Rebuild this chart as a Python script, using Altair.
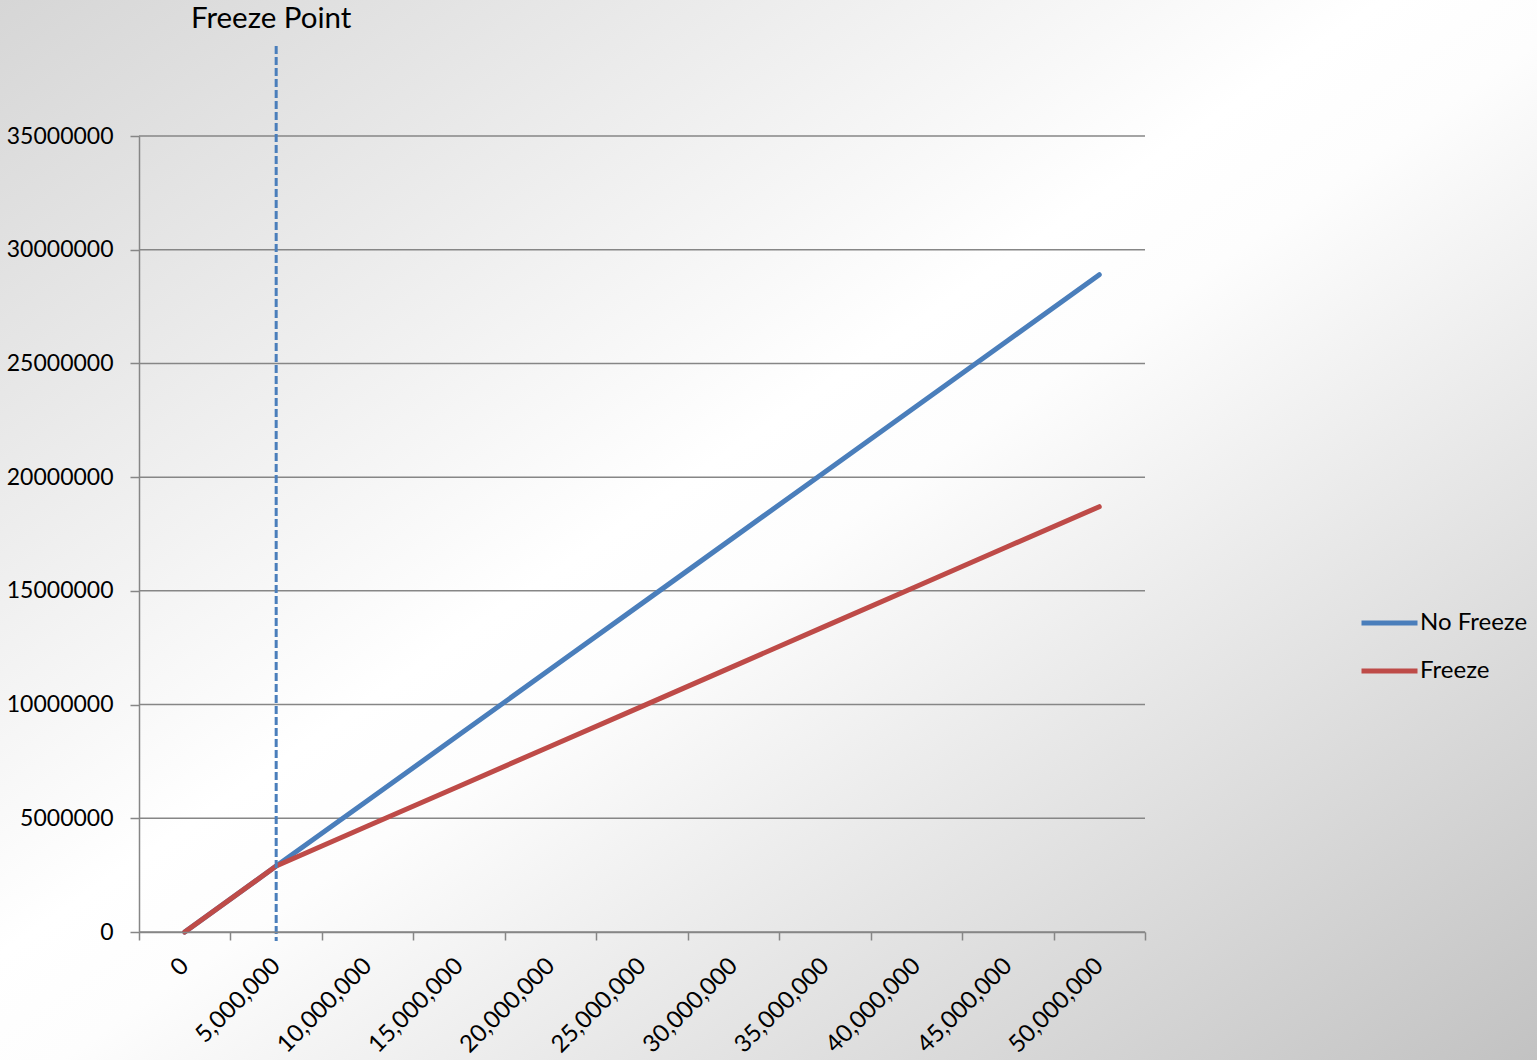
import altair as alt
import pandas as pd

categories = ["0", "5,000,000", "10,000,000", "15,000,000", "20,000,000", "25,000,000",
              "30,000,000", "35,000,000", "40,000,000", "45,000,000", "50,000,000"]
no_freeze = [0, 2900000, 5780000, 8670000, 11560000, 14450000, 17340000,
             20230000, 23120000, 26010000, 28900000]
freeze = [0, 2900000, 4660000, 6410000, 8170000, 9920000, 11680000,
          13440000, 15190000, 16950000, 18700000]
series_names = ["No Freeze", "Freeze"]
series_colors = ["#4a7ebb", "#be4b48"]
y_ticks = [0, 5000000, 10000000, 15000000, 20000000, 25000000, 30000000, 35000000]
freeze_at = "5,000,000"
freeze_label = "Freeze Point"

rows = []
for c, v in zip(categories, no_freeze):
    rows.append({"cat": c, "series": "No Freeze", "value": v})
for c, v in zip(categories, freeze):
    rows.append({"cat": c, "series": "Freeze", "value": v})
df = pd.DataFrame(rows)
grid_df = pd.DataFrame({"value": y_ticks})

FONT = "Lato"
W, H = 1006, 796
PL, PT = 139, 136
TOTAL_W, TOTAL_H = 1537, 1060
GRID = "#868686"

xscale = alt.Scale(type="band", domain=categories, paddingInner=0, paddingOuter=0)
yscale = alt.Scale(domain=[0, 35000000], nice=False)

gradient = alt.LinearGradient(
    gradient="linear",
    stops=[
        alt.GradientStop(offset=0, color="#d6d6d6"),
        alt.GradientStop(offset=0.45, color="#ffffff"),
        alt.GradientStop(offset=0.52, color="#fdfdfd"),
        alt.GradientStop(offset=1, color="#c2c2c2"),
    ],
    x1=0, y1=0, x2=1, y2=1,
)

bg = alt.Chart(pd.DataFrame({"d": [0]})).mark_rect(fill=gradient).encode(
    x=alt.value(-PL), x2=alt.value(TOTAL_W - PL),
    y=alt.value(-PT), y2=alt.value(TOTAL_H - PT),
)

grid = alt.Chart(grid_df).mark_rule(color=GRID, strokeWidth=1.5).encode(
    y=alt.Y("value:Q", scale=yscale),
    x=alt.value(0), x2=alt.value(W),
)

lines = alt.Chart(df).mark_line(strokeWidth=5, strokeCap="round", strokeJoin="round").encode(
    x=alt.X("cat:N", scale=xscale, sort=categories,
            axis=alt.Axis(title=None, labelAngle=-45, labelAlign="right", labelBaseline="middle",
                          labelFontSize=24, tickBand="extent", tickSize=8, labelPadding=22,
                          grid=False, zindex=1)),
    y=alt.Y("value:Q", scale=yscale,
            axis=alt.Axis(title=None, values=y_ticks, format="d", grid=False,
                          tickSize=9, labelPadding=17, zindex=1)),
    color=alt.Color("series:N", scale=alt.Scale(domain=series_names, range=series_colors),
                    sort=series_names,
                    legend=alt.Legend(title=None, orient="none", legendX=1220, legendY=475,
                                      symbolType="stroke", symbolSize=3136, symbolStrokeWidth=5,
                                      labelFont=FONT, labelFontSize=24, labelColor="#000000",
                                      labelOffset=0, clipHeight=24, rowPadding=24, padding=0)),
    detail="series:N",
)

marker_df = pd.DataFrame({"cat": [freeze_at], "label": [freeze_label]})

rule = alt.Chart(marker_df).mark_rule(color="#4a7ebb", strokeWidth=3, strokeDash=[8, 3]).encode(
    x=alt.X("cat:N", scale=xscale, sort=categories),
    y=alt.value(-90), y2=alt.value(805),
)

label = alt.Chart(marker_df).mark_text(font=FONT, fontSize=29.5, color="#000000", dx=-5,
                                       baseline="middle", align="center").encode(
    x=alt.X("cat:N", scale=xscale, sort=categories),
    y=alt.value(-117),
    text="label:N",
)

chart = alt.layer(bg, grid, lines, rule, label).properties(
    width=W, height=H,
    autosize=alt.AutoSizeParams(type="none"),
    padding={"left": PL, "top": PT, "right": TOTAL_W - PL - W, "bottom": TOTAL_H - PT - H},
    background="#ffffff",
).configure_view(stroke=None).configure_axis(
    labelFont=FONT, labelFontSize=23, labelColor="#000000",
    domainColor=GRID, domainWidth=1.5, tickColor=GRID, tickWidth=1.5,
)

chart.save("out.html", embed_options={"renderer": "svg", "actions": False})
